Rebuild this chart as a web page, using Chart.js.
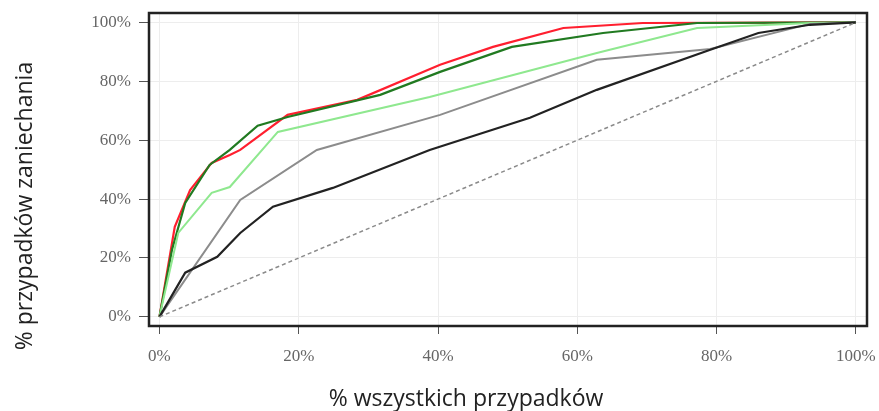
<!DOCTYPE html>
<html>
<head>
<meta charset="utf-8">
<script src="https://cdn.jsdelivr.net/npm/chart.js@4.4.1/dist/chart.umd.min.js"></script>
<style>
  html, body { margin: 0; padding: 0; background: #fff; }
  #wrap { width: 879px; height: 411px; }
</style>
</head>
<body>
<div id="wrap"><canvas id="myChart" width="879" height="411"></canvas></div>
<script>
  'use strict'

  // x = % wszystkich przypadków, y = % przypadków zaniechania
  var tickValues = [0, 20, 40, 60, 80, 100]
  var xTitle = '% wszystkich przypadków'
  var yTitle = '% przypadków zaniechania'

  var redX = [0, 2.2, 4.4, 7.5, 10.1, 11.6, 18.4, 28.4, 40.3, 47.9, 58, 69.4, 100]
  var redY = [0, 30.6, 43.1, 52.3, 55, 56.7, 68.6, 73.7, 85.6, 91.7, 98.1, 99.8, 100]

  var darkGreenX = [0, 1.8, 3.7, 7.2, 10.1, 14.1, 18.4, 31.7, 40.3, 50.6, 63.7, 77.2, 100]
  var darkGreenY = [0, 22.8, 38.7, 51.6, 56.7, 64.9, 67.9, 75.4, 83.2, 91.7, 96.4, 99.8, 100]

  var lightGreenX = [0, 2.7, 7.5, 10.1, 17, 38.8, 62.8, 77.2, 93.4, 100]
  var lightGreenY = [0, 28.5, 42.1, 44.1, 62.8, 74.7, 89.6, 98.1, 99.8, 100]

  var grayX = [0, 11.6, 22.6, 40.3, 62.8, 79.1, 93.4, 100]
  var grayY = [0, 39.7, 56.7, 68.6, 87.3, 91, 99.5, 100]

  var blackX = [0, 3.7, 8.3, 11.6, 16.3, 24.9, 38.8, 53.2, 62.8, 79.1, 86, 93.4, 100]
  var blackY = [0, 15, 20.4, 28.5, 37.4, 43.8, 56.7, 67.6, 77.1, 90.7, 96.4, 99.2, 100]

  var diagX = [0, 100]
  var diagY = [0, 100]

  function pts(xs, ys) {
    return xs.map(function (x, i) { return { x: x, y: ys[i] } })
  }

  function line(label, xs, ys, color, width, dash) {
    return {
      label: label,
      data: pts(xs, ys),
      borderColor: color,
      backgroundColor: color,
      borderWidth: width,
      borderDash: dash || [],
      pointRadius: 0,
      tension: 0,
      fill: false
    }
  }

  // ramka wokół obszaru wykresu + tytuły osi (przesunięte jak w oryginale)
  var boxPlugin = {
    id: 'box',
    afterDatasetsDraw: function (chart) {
      var a = chart.chartArea
      var ctx = chart.ctx
      ctx.save()
      ctx.strokeStyle = '#222'
      ctx.lineWidth = 2.5
      ctx.strokeRect(a.left, a.top, a.right - a.left, a.bottom - a.top)
      ctx.restore()
    },
    afterDraw: function (chart) {
      var ctx = chart.ctx
      ctx.save()
      ctx.fillStyle = '#222'
      ctx.font = '23px "Open Sans"'
      ctx.textAlign = 'center'
      ctx.textBaseline = 'alphabetic'
      ctx.fillText(xTitle, 466, 406)
      ctx.translate(32, 206)
      ctx.rotate(-Math.PI / 2)
      ctx.fillText(yTitle, 0, 0)
      ctx.restore()
    }
  }

  var tickFont = { family: 'Liberation Serif', size: 17 }

  var ctx = document.getElementById('myChart')
  new Chart(ctx, {
    type: 'line',
    data: {
      datasets: [
        line('losowy', diagX, diagY, '#8a8a8a', 1.5, [4, 3]),
        line('czarny', blackX, blackY, '#222222', 2.2),
        line('szary', grayX, grayY, '#8c8c8c', 2),
        line('jasnozielony', lightGreenX, lightGreenY, '#8fe88f', 2),
        line('zielony', darkGreenX, darkGreenY, '#217a21', 2.2),
        line('czerwony', redX, redY, '#ff1f2f', 2.2)
      ]
    },
    options: {
      responsive: false,
      animation: false,
      layout: { padding: { top: 13, right: 12, left: 0, bottom: 0 } },
      plugins: {
        legend: { display: false },
        tooltip: { enabled: false }
      },
      scales: {
        x: {
          type: 'linear',
          min: -1.5,
          max: 101.6,
          afterBuildTicks: function (scale) {
            scale.ticks = tickValues.map(function (v) { return { value: v } })
          },
          afterFit: function (scale) {
            scale.height = 85
            scale.paddingLeft = 0
            scale.paddingRight = 0
          },
          border: { display: false },
          grid: { color: '#ededed', tickColor: '#555', tickLength: 8, lineWidth: 1 },
          ticks: {
            font: tickFont,
            color: '#666',
            padding: 12,
            maxRotation: 0,
            callback: function (v) { return v + '%' }
          }
        },
        y: {
          type: 'linear',
          min: -3.1,
          max: 103.2,
          afterBuildTicks: function (scale) {
            scale.ticks = tickValues.map(function (v) { return { value: v } })
          },
          afterFit: function (scale) {
            scale.width = 149
            scale.paddingTop = 0
            scale.paddingBottom = 0
          },
          border: { display: false },
          grid: { color: '#ededed', tickColor: '#555', tickLength: 10, lineWidth: 1 },
          ticks: {
            font: tickFont,
            color: '#666',
            padding: 8,
            callback: function (v) { return v + '%' }
          }
        }
      }
    },
    plugins: [boxPlugin]
  })
</script>
</body>
</html>
